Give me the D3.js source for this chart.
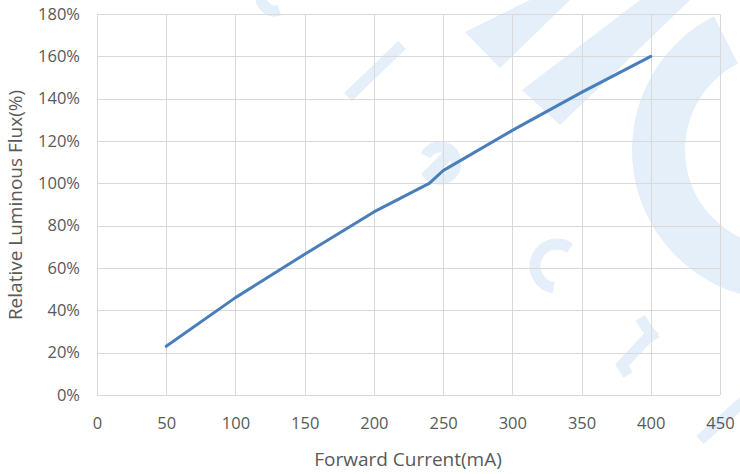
<!DOCTYPE html>
<html><head><meta charset="utf-8">
<script src="https://cdn.jsdelivr.net/npm/d3@7"></script>
<style>body{margin:0;background:#fff}svg{display:block}</style>
</head><body><svg id="c" width="740" height="474"></svg>
<script>
const current = [50, 100, 150, 200, 240, 250, 300, 350, 400];
const flux = [23, 46, 66.5, 86.5, 100, 106, 125, 143, 160];
const xTicks = [0, 50, 100, 150, 200, 250, 300, 350, 400, 450];
const yTicks = [0, 20, 40, 60, 80, 100, 120, 140, 160, 180];
const xTitle = "Forward Current(mA)";
const yTitle = "Relative Luminous Flux(%)";

const svg = d3.select("#c");
const m = {l: 97, r: 720, t: 14, b: 395};
const x = d3.scaleLinear().domain([0, 450]).range([m.l, m.r]);
const y = d3.scaleLinear().domain([0, 180]).range([m.b, m.t]);
const font = "'Open Sans', 'Liberation Sans', sans-serif";

// watermark (decorative)
const wm = svg.append("g").attr("fill", "#e4eff9").attr("stroke", "none");
wm.append("polygon").attr("points", "465,32 500,68 570,0 530,0");
wm.append("polygon").attr("points", "522,90 560,125 690,0 640,0");
const arc = d3.arc().innerRadius(97).outerRadius(150).startAngle(-Math.PI * 0.95).endAngle(-Math.PI * 0.15);
wm.append("path").attr("d", arc()).attr("transform", "translate(782,150)");
const wms = svg.append("g").attr("fill", "none").attr("stroke", "#e4eff9").attr("stroke-width", 11);
wms.append("line").attr("x1", 348).attr("y1", 97).attr("x2", 402).attr("y2", 45);
wms.append("path").attr("d", d3.arc().innerRadius(16).outerRadius(16).startAngle(-Math.PI*0.35).endAngle(Math.PI*1.3)()).attr("transform", "translate(440,163)");
wms.append("line").attr("x1", 425).attr("y1", 178).attr("x2", 455).attr("y2", 148);
wms.append("path").attr("d", d3.arc().innerRadius(22).outerRadius(22).startAngle(Math.PI*1.05).endAngle(Math.PI*2.2)()).attr("transform", "translate(557,266)");
wms.append("path").attr("d", "M628,375 L622,365 L655,330 M640,318 L655,340");
wms.append("path").attr("d", d3.arc().innerRadius(14).outerRadius(14).startAngle(Math.PI*0.9).endAngle(Math.PI*1.6)()).attr("transform", "translate(275,-3)");
wms.append("line").attr("x1", 700).attr("y1", 440).attr("x2", 745).attr("y2", 400);

// grid
const g = svg.append("g");
g.selectAll(".gx").data(xTicks).join("line")
  .attr("x1", d => Math.round(x(d)) + 0.5).attr("x2", d => Math.round(x(d)) + 0.5)
  .attr("y1", m.t).attr("y2", m.b).attr("stroke", "#d9d9d9").attr("stroke-width", 1);
g.selectAll(".gy").data(yTicks).join("line")
  .attr("y1", d => Math.round(y(d)) + 0.5).attr("y2", d => Math.round(y(d)) + 0.5)
  .attr("x1", m.l).attr("x2", m.r).attr("stroke", "#d9d9d9").attr("stroke-width", 1);

// axes labels via d3 axes
const xa = svg.append("g").attr("transform", `translate(0,${m.b})`)
  .call(d3.axisBottom(x).tickValues(xTicks).tickSize(0).tickPadding(22));
const ya = svg.append("g").attr("transform", `translate(${m.l},0)`)
  .call(d3.axisLeft(y).tickValues(yTicks).tickSize(0).tickPadding(17).tickFormat(d => d + "%"));
[xa, ya].forEach(a => {
  a.select(".domain").remove();
  a.selectAll("text").attr("fill", "#595959").style("font-family", font).style("font-size", "16.5px");
});

// line
svg.append("path").datum(current.map((c, i) => [c, flux[i]]))
  .attr("fill", "none").attr("stroke", "#4a7ebb").attr("stroke-width", 3)
  .attr("stroke-linejoin", "round").attr("stroke-linecap", "round")
  .attr("d", d3.line().x(d => x(d[0])).y(d => y(d[1])));

// titles
svg.append("text").attr("x", 408).attr("y", 466).attr("text-anchor", "middle")
  .attr("fill", "#595959").style("font-family", font).style("font-size", "19px").text(xTitle);
svg.append("text").attr("transform", "translate(22,205) rotate(-90)").attr("text-anchor", "middle")
  .attr("fill", "#595959").style("font-family", font).style("font-size", "19px").text(yTitle);
</script></body></html>
